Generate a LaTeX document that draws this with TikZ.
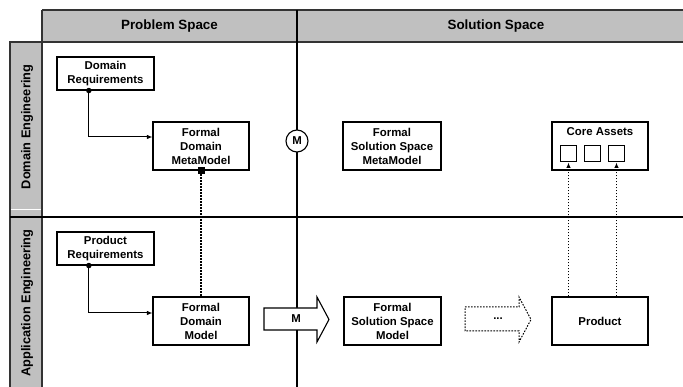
\documentclass[tikz,border=0pt]{standalone}
\usepackage{fontspec}
\setmainfont{Liberation Sans}
\usetikzlibrary{arrows.meta,calc}
\definecolor{bandgray}{HTML}{C0C0C0}
\definecolor{edgedark}{HTML}{333333}
\begin{document}
\begin{tikzpicture}[x=1pt,y=-1pt,
  box/.style={draw,line width=1.1pt,fill=white,align=center,inner sep=0pt,
    font=\fontsize{11.4}{14}\selectfont\bfseries},
  boxlabel/.style={inner sep=0pt,font=\fontsize{11.4}{14}\selectfont\bfseries},
  headtext/.style={inner sep=0pt,font=\fontsize{13.4}{16}\selectfont\bfseries},
  sidetext/.style={inner sep=0pt,rotate=90,font=\fontsize{12.8}{15}\selectfont\bfseries},
  asset/.style={draw,line width=1pt,fill=white,minimum width=16.5,minimum height=16,inner sep=0pt},
  dot/.style={circle,fill=black,minimum size=5.5,inner sep=0pt},
  marker/.style={fill=black,minimum size=7,inner sep=0pt},
  finedots/.style={dash pattern=on 1.6pt off 1.4pt},
  conn/.style={line width=1pt,-{Latex[length=5.5pt,width=4.5pt]}},
  dotline/.style={line width=1.1pt,finedots},
  dotarrow/.style={line width=1.1pt,finedots,-{Latex[length=5.5pt,width=4.5pt]}},
]
\useasboundingbox (0,0) rectangle (683,387);

% header band and side band
\fill[bandgray] (42,10) rectangle (683,42);
\fill[bandgray] (10,42) rectangle (42,387);
\draw[edgedark,line width=1.5pt] (42,10) -- (683,10);
\draw[edgedark,line width=2pt] (42,42) -- (683,42);
\draw[edgedark,line width=1.5pt] (10,387) -- (10,42) -- (42,42);
\draw[edgedark,line width=1.5pt] (42,10) -- (42,387);
\draw[white,line width=1pt] (11,210) -- (41,210);
\draw[black,line width=1.3pt] (10,217) -- (683,217);
\draw[black,line width=2pt] (297,10) -- (297,387);

\node[headtext] (hprob) at (169.5,26) {Problem Space};
\node[headtext] (hsol) at (496,26) {Solution Space};
\node[sidetext] (sdom) at (27,127) {Domain Engineering};
\node[sidetext] (sapp) at (27,303) {Application Engineering};

% boxes
\node[box,minimum width=97,minimum height=33] (dreq) at (105.5,73.5) {Domain\\Requirements};
\node[box,minimum width=97,minimum height=33] (preq) at (105.5,248.5) {Product\\Requirements};
\node[box,minimum width=96,minimum height=48] (fdmm) at (201,146) {Formal\\Domain\\MetaModel};
\node[box,minimum width=96,minimum height=48] (fdm) at (201,321) {Formal\\Domain\\Model};
\node[box,minimum width=98,minimum height=48] (fssmm) at (392,146) {Formal\\Solution Space\\MetaModel};
\node[box,minimum width=97,minimum height=48] (fssm) at (392.5,321) {Formal\\Solution Space\\Model};
\node[box,minimum width=96,minimum height=48] (core) at (600,146) {};
\node[boxlabel] (coretitle) at (600,132) {Core Assets};
\node[asset] (sq1) at (568.5,154) {};
\node[asset] (sq2) at (592.5,154) {};
\node[asset] (sq3) at (616.5,154) {};
\node[box,minimum width=96,minimum height=48] (prod) at (600,321) {Product};

% mapping circle on the divider
\node[circle,draw,line width=1.1pt,fill=white,minimum size=22,inner sep=0pt,
  font=\fontsize{11.4}{14}\selectfont\bfseries] (mcirc) at (297,141) {M};

% block arrows
\draw[line width=1.1pt,fill=white] (264,308) -- (317,308) -- (317,297) -- (329,319.5)
  -- (317,342) -- (317,330) -- (264,330) -- cycle;
\node[boxlabel] (marrow) at (296,319) {M};
\draw[line width=1pt,finedots] (465,307) -- (519,307) -- (519,297) -- (531,319.5)
  -- (519,342) -- (519,331) -- (465,331) -- cycle;
\node[boxlabel] (dots) at (498,318.5) {...};

% requirement connectors
\coordinate (d1) at ($(dreq.south west)!0.33!(dreq.south east)$);
\coordinate (p1) at ($(preq.south west)!0.33!(preq.south east)$);
\draw[conn] (d1) |- ($(fdmm.west)+(0,-9)$);
\draw[conn] (p1) |- ($(fdm.west)+(0,-8)$);
\node[dot] (dd) at (d1) {};
\node[dot] (pd) at (p1) {};

% instance-of link
\node[marker] (mk) at (fdmm.south) {};
\draw[dotline] (mk.south) -- (fdm.north);

% product built from core assets
\draw[dotarrow] (sq1.south |- prod.north) -- (sq1.south);
\draw[dotarrow] (sq3.south |- prod.north) -- (sq3.south);
\end{tikzpicture}
\end{document}
